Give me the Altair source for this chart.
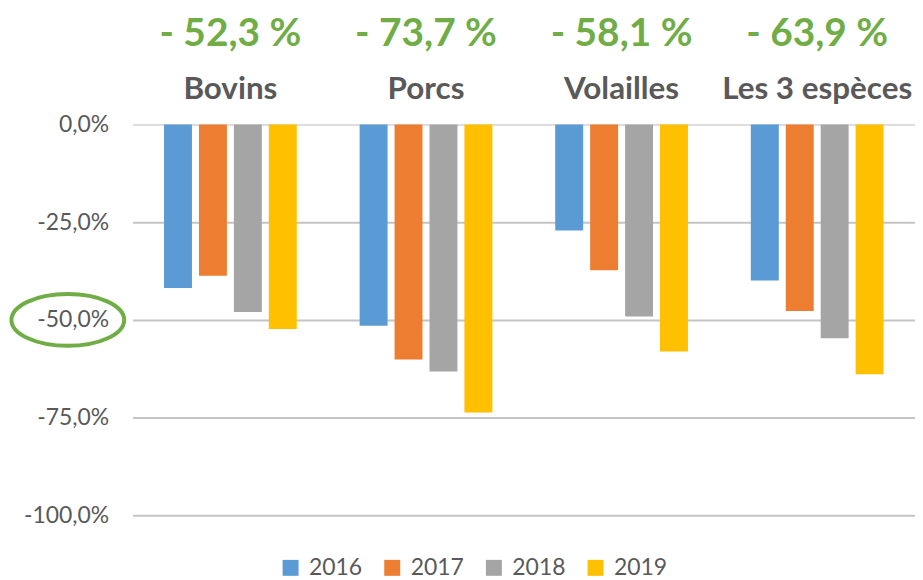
import altair as alt
import pandas as pd

categories = ["Bovins", "Porcs", "Volailles", "Les 3 espèces"]
years = ["2016", "2017", "2018", "2019"]
v2016 = [-41.8, -51.5, -27.1, -39.9]
v2017 = [-38.7, -60.1, -37.3, -47.7]
v2018 = [-48.0, -63.2, -49.1, -54.7]
v2019 = [-52.3, -73.7, -58.1, -63.9]
totals = ["- 52,3 %", "- 73,7 %", "- 58,1 %", "- 63,9 %"]
y_ticks = [0, -25, -50, -75, -100]
highlight_tick = [-50]
colors = ["#5B9BD5", "#ED7D31", "#A5A5A5", "#FFC000"]

rows = []
for yr, vals in zip(years, [v2016, v2017, v2018, v2019]):
    for c, v in zip(categories, vals):
        rows.append({"cat": c, "year": yr, "value": v})
df = pd.DataFrame(rows)
tot_df = pd.DataFrame({"cat": categories, "label": totals})
mark_df = pd.DataFrame({"v": highlight_tick})

FONT = "Lato"
GREY = "#595959"
GREEN = "#70AD47"

x_enc = alt.X(
    "cat:N", sort=categories,
    scale=alt.Scale(paddingInner=0, paddingOuter=0),
    axis=alt.Axis(orient="top", title=None, domain=False, ticks=False, labelAngle=0,
                  labelFontSize=31.5, labelFontWeight="bold", labelColor=GREY,
                  labelFont=FONT, labelPadding=19, labelLimit=0, grid=False),
)

y_scale = alt.Scale(domain=[-100, 0], nice=False)

bars = alt.Chart(df).mark_bar().encode(
    x=x_enc,
    xOffset=alt.XOffset("year:N", sort=years,
                        scale=alt.Scale(paddingInner=0.2, paddingOuter=0.9)),
    y=alt.Y("value:Q", scale=y_scale,
            axis=alt.Axis(values=y_ticks, title=None, domain=False, ticks=False,
                          labelFontSize=23, labelColor=GREY, labelFont=FONT,
                          labelPadding=24,
                          labelExpr="(datum.value < 0 ? '-' : '') + replace(format(abs(datum.value), '.1f'), '.', ',') + '%'",
                          gridColor={"condition": {"test": "datum.value === 0", "value": "#DDDDDD"},
                                     "value": "#C4C4C4"},
                          gridWidth=2)),
    color=alt.Color("year:N", sort=years,
                    scale=alt.Scale(domain=years, range=colors),
                    legend=alt.Legend(title=None, orient="none", legendX=147, legendY=433,
                                      direction="horizontal", symbolType="square",
                                      symbolSize=256, symbolStrokeWidth=0,
                                      labelFontSize=23, labelColor=GREY, labelFont=FONT,
                                      columnPadding=18, labelOffset=7)),
)

totals_text = alt.Chart(tot_df).mark_text(
    fontSize=39, fontWeight="bold", color=GREEN, font=FONT, baseline="middle"
).encode(
    x=alt.X("cat:N", sort=categories),
    y=alt.value(-91),
    text="label:N",
)

ellipse = alt.Chart(mark_df).mark_point(
    shape="M -1 0 A 1 0.46 0 1 0 1 0 A 1 0.46 0 1 0 -1 0 Z",
    size=12800, filled=False, stroke=GREEN, strokeWidth=4, opacity=1,
).encode(
    x=alt.value(-65),
    y=alt.Y("v:Q", scale=y_scale),
)

chart = alt.layer(bars, totals_text, ellipse).properties(
    width=785, height=392,
    autosize=alt.AutoSizeParams(type="none"),
    padding={"left": 125, "top": 116, "right": 0, "bottom": 64},
).configure_view(stroke=None)

chart.save("out.html", embed_options={"renderer": "svg", "actions": False})
